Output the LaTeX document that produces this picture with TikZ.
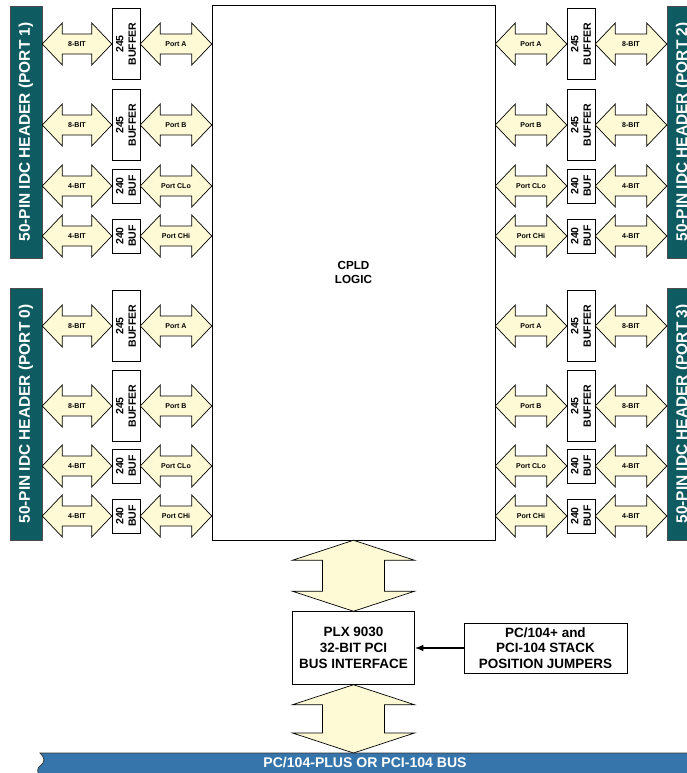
\documentclass[tikz,border=0pt]{standalone}
\usepackage{fontspec}
\setmainfont{Liberation Sans}
\usepackage{xcolor}
\usepackage{tikz}
\usetikzlibrary{positioning,calc,arrows.meta}

\definecolor{hdrteal}{RGB}{14,92,98}
\definecolor{busblue}{RGB}{54,117,171}
\definecolor{arrowcream}{RGB}{255,250,214}

% fat double arrow, left tip #1 to right tip #2
\newcommand{\harrow}[3]{%
  \draw[fatarrow] (#1) -- ++(20,-21) -- ++(0,11) -- ($(#2)+(-20,-10)$) -- ++(0,-11)
    -- (#2) -- ++(-20,21) -- ++(0,-11) -- ($(#1)+(20,10)$) -- ++(0,11) -- cycle;
  \node[portlabel] at ($(#1)!0.5!(#2)$) {#3};
}
% big double arrow, top tip #1 to bottom tip #2
\newcommand{\varrow}[2]{%
  \draw[fatarrow] (#1) -- ++(61,20) -- ++(-30,0) -- ($(#2)+(31,-20)$) -- ++(30,0)
    -- (#2) -- ++(-61,-20) -- ++(30,0) -- ($(#1)+(-31,20)$) -- ++(-30,0) -- cycle;
}

\begin{document}
\begin{tikzpicture}[
    x=0.03cm, y=-0.03cm,
    hdr/.style={
        fill=hdrteal,
        draw=black!70,
        minimum width=0.96cm,
        minimum height=7.56cm,
        inner sep=0pt
    },
    hdrtext/.style={rotate=90, text=white, font=\fontsize{13.2}{15}\selectfont\bfseries},
    buf245/.style={
        draw,
        fill=white,
        minimum width=0.84cm,
        minimum height=2.13cm,
        inner sep=0pt
    },
    buf240/.style={buf245, minimum height=1.02cm},
    buftext/.style={rotate=90, align=center, font=\fontsize{9}{10.5}\selectfont\bfseries},
    logic/.style={
        draw,
        fill=white,
        minimum width=8.49cm,
        minimum height=16.05cm,
        align=center,
        font=\fontsize{10}{12}\selectfont\bfseries
    },
    plxbox/.style={
        draw,
        fill=white,
        minimum width=3.66cm,
        minimum height=2.19cm,
        inner sep=1pt,
        align=center,
        font=\fontsize{11.5}{13.4}\selectfont\bfseries
    },
    jumpbox/.style={plxbox, minimum width=4.89cm, minimum height=1.5cm},
    fatarrow/.style={draw=black, fill=arrowcream, line width=0.6pt, line join=miter},
    portlabel/.style={font=\fontsize{6}{7}\selectfont\bfseries, inner sep=0pt},
    jumparrow/.style={-{Latex[length=2.6mm,width=2mm]}, line width=1.1pt},
    bustext/.style={text=white, font=\fontsize{12}{14}\selectfont\bfseries, inner sep=0pt}
]
\useasboundingbox (0,0) rectangle (686,773);

% headers
\node[hdr, label={[hdrtext]center:50-PIN IDC HEADER (PORT 1)}] (hdrA) at (26,132) {};
\node[hdr, label={[hdrtext]center:50-PIN IDC HEADER (PORT 0)}] (hdrB) at (26,414) {};
\node[hdr, label={[hdrtext]center:50-PIN IDC HEADER (PORT 2)}] (hdrC) at (683,132) {};
\node[hdr, label={[hdrtext]center:50-PIN IDC HEADER (PORT 3)}] (hdrD) at (683,414) {};

\node[logic] (cpld) at (353.5,272.5) {CPLD\\LOGIC};

% buffers, left side
\node[buf245, label={[buftext]center:245\\BUFFER}] (lA1) at (126,44) {};
\node[buf245, label={[buftext]center:245\\BUFFER}] (lA2) at (126,125) {};
\node[buf240, label={[buftext]center:240\\BUF}] (lA3) at (126,186) {};
\node[buf240, label={[buftext]center:240\\BUF}] (lA4) at (126,236) {};
\node[buf245, label={[buftext]center:245\\BUFFER}] (lB1) at (126,326) {};
\node[buf245, label={[buftext]center:245\\BUFFER}] (lB2) at (126,406) {};
\node[buf240, label={[buftext]center:240\\BUF}] (lB3) at (126,466) {};
\node[buf240, label={[buftext]center:240\\BUF}] (lB4) at (126,516) {};

% buffers, right side
\node[buf245, label={[buftext]center:245\\BUFFER}] (rC1) at (581,44) {};
\node[buf245, label={[buftext]center:245\\BUFFER}] (rC2) at (581,125) {};
\node[buf240, label={[buftext]center:240\\BUF}] (rC3) at (581,186) {};
\node[buf240, label={[buftext]center:240\\BUF}] (rC4) at (581,236) {};
\node[buf245, label={[buftext]center:245\\BUFFER}] (rD1) at (581,326) {};
\node[buf245, label={[buftext]center:245\\BUFFER}] (rD2) at (581,406) {};
\node[buf240, label={[buftext]center:240\\BUF}] (rD3) at (581,466) {};
\node[buf240, label={[buftext]center:240\\BUF}] (rD4) at (581,516) {};

\node[plxbox, below=2.13cm of cpld] (plx) {PLX 9030\\32-BIT PCI\\BUS INTERFACE};
\node[jumpbox, right=1.47cm of plx] (jump) {PC/104+ and\\PCI-104 STACK\\POSITION JUMPERS};

% bus along the bottom edge
\fill[busblue] (40,753) -- (700,753) -- (700,780) -- (39,780) -- (39,775)
    .. controls (37,771) and (37,768) .. (41,765)
    .. controls (45,762) and (45,758) .. (40,753) -- cycle;
\draw[black!80, line width=0.6pt] (700,753) -- (40,753)
    .. controls (45,758) and (45,762) .. (41,765)
    .. controls (37,768) and (37,771) .. (39,775) -- (39,780);
\node[bustext] (bus) at (365,763) {PC/104-PLUS OR PCI-104 BUS};
\coordinate (bustop) at (354,753);

% header to buffer, left
\harrow{hdrA.east|-lA1.west}{lA1.west}{8-BIT}
\harrow{hdrA.east|-lA2.west}{lA2.west}{8-BIT}
\harrow{hdrA.east|-lA3.west}{lA3.west}{4-BIT}
\harrow{hdrA.east|-lA4.west}{lA4.west}{4-BIT}
\harrow{hdrB.east|-lB1.west}{lB1.west}{8-BIT}
\harrow{hdrB.east|-lB2.west}{lB2.west}{8-BIT}
\harrow{hdrB.east|-lB3.west}{lB3.west}{4-BIT}
\harrow{hdrB.east|-lB4.west}{lB4.west}{4-BIT}

% buffer to cpld, left
\harrow{lA1.east}{cpld.west|-lA1.east}{Port A}
\harrow{lA2.east}{cpld.west|-lA2.east}{Port B}
\harrow{lA3.east}{cpld.west|-lA3.east}{Port CLo}
\harrow{lA4.east}{cpld.west|-lA4.east}{Port CHi}
\harrow{lB1.east}{cpld.west|-lB1.east}{Port A}
\harrow{lB2.east}{cpld.west|-lB2.east}{Port B}
\harrow{lB3.east}{cpld.west|-lB3.east}{Port CLo}
\harrow{lB4.east}{cpld.west|-lB4.east}{Port CHi}

% cpld to buffer, right
\harrow{cpld.east|-rC1.west}{rC1.west}{Port A}
\harrow{cpld.east|-rC2.west}{rC2.west}{Port B}
\harrow{cpld.east|-rC3.west}{rC3.west}{Port CLo}
\harrow{cpld.east|-rC4.west}{rC4.west}{Port CHi}
\harrow{cpld.east|-rD1.west}{rD1.west}{Port A}
\harrow{cpld.east|-rD2.west}{rD2.west}{Port B}
\harrow{cpld.east|-rD3.west}{rD3.west}{Port CLo}
\harrow{cpld.east|-rD4.west}{rD4.west}{Port CHi}

% buffer to header, right
\harrow{rC1.east}{hdrC.west|-rC1.east}{8-BIT}
\harrow{rC2.east}{hdrC.west|-rC2.east}{8-BIT}
\harrow{rC3.east}{hdrC.west|-rC3.east}{4-BIT}
\harrow{rC4.east}{hdrC.west|-rC4.east}{4-BIT}
\harrow{rD1.east}{hdrD.west|-rD1.east}{8-BIT}
\harrow{rD2.east}{hdrD.west|-rD2.east}{8-BIT}
\harrow{rD3.east}{hdrD.west|-rD3.east}{4-BIT}
\harrow{rD4.east}{hdrD.west|-rD4.east}{4-BIT}

% cpld - plx - bus
\varrow{plx.north|-cpld.south}{plx.north}
\varrow{plx.south}{plx.south|-bustop}

\draw[jumparrow] (jump.west) -- (plx.east);

\end{tikzpicture}
\end{document}
